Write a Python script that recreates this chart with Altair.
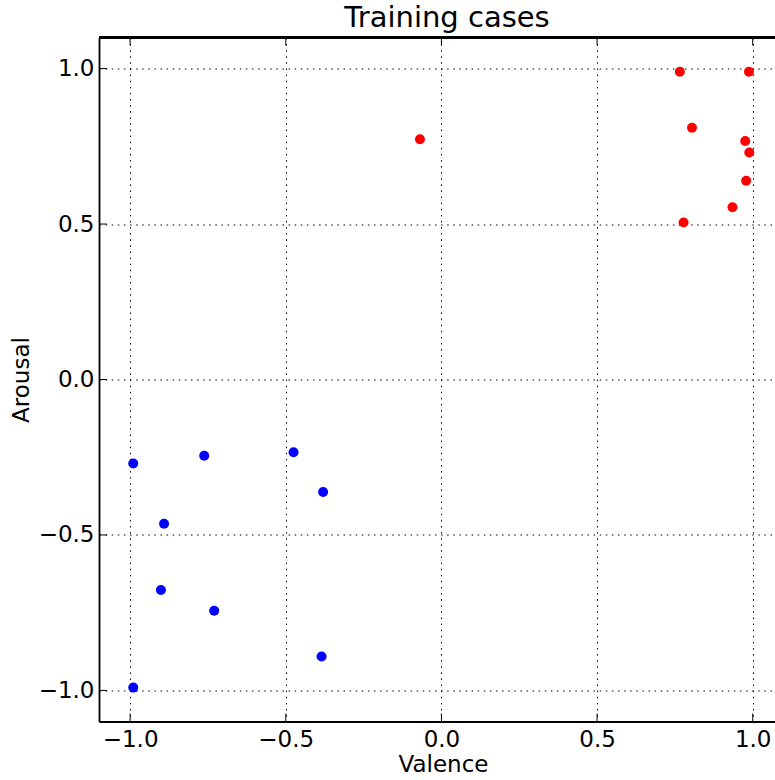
import altair as alt
import pandas as pd

# Training cases: positive (red) and negative (blue)
red_valence = [0.766, 0.988, 0.805, 0.976, 0.989, 0.979, 0.935, 0.778, -0.069]
red_arousal = [0.990, 0.990, 0.810, 0.767, 0.730, 0.639, 0.554, 0.505, 0.773]
blue_valence = [-0.990, -0.762, -0.475, -0.380, -0.891, -0.901, -0.730, -0.385, -0.990]
blue_arousal = [-0.270, -0.245, -0.234, -0.362, -0.464, -0.677, -0.744, -0.891, -0.991]
ticks = [-1.0, -0.5, 0.0, 0.5, 1.0]

df = pd.DataFrame({
    "Valence": red_valence + blue_valence,
    "Arousal": red_arousal + blue_arousal,
    "cls": ["pos"] * len(red_valence) + ["neg"] * len(blue_valence),
})
xticks_df = pd.DataFrame({"Valence": ticks})
yticks_df = pd.DataFrame({"Arousal": ticks})

FONT = "DejaVu Sans"
W, H = 676, 684
SPINE_W = 1.8
TICK_LEN = 8

xs = alt.Scale(domain=[-1.1, 1.0716], nice=False, zero=False)
ys = alt.Scale(domain=[-1.1, 1.1], nice=False, zero=False)

axis_common = dict(
    grid=True,
    gridColor="black",
    gridDash=[1.5, 4.6],
    gridWidth=1,
    gridOpacity=1,
    domain=True,
    domainColor="black",
    domainWidth=SPINE_W,
    ticks=False,
    labelFont=FONT,
    labelFontSize=23,
    labelColor="black",
    titleFont=FONT,
    titleFontSize=23,
    titleFontWeight="normal",
    titleColor="black",
    values=ticks,
    format=".1f",
)

points = (
    alt.Chart(df)
    .mark_circle(size=100, opacity=1)
    .encode(
        x=alt.X(
            "Valence:Q",
            scale=xs,
            axis=alt.Axis(labelPadding=7, titlePadding=2, titleX=344, **axis_common),
        ),
        y=alt.Y(
            "Arousal:Q",
            scale=ys,
            axis=alt.Axis(labelPadding=5, titlePadding=5, **axis_common),
        ),
        color=alt.Color(
            "cls:N",
            scale=alt.Scale(domain=["pos", "neg"], range=["#ff0000", "#0000ff"]),
            legend=None,
        ),
    )
)

# top spine at the upper end of the arousal domain
top_spine = (
    alt.Chart(df)
    .mark_rule(color="black", strokeWidth=SPINE_W)
    .encode(y=alt.datum(1.1))
)

# inward tick marks (matplotlib classic style)
ticks_bottom = (
    alt.Chart(xticks_df)
    .mark_tick(orient="vertical", size=TICK_LEN, thickness=1, color="black",
               opacity=1, yOffset=-TICK_LEN / 2)
    .encode(x=alt.X("Valence:Q", scale=xs), y=alt.datum(-1.1))
)
ticks_top = (
    alt.Chart(xticks_df)
    .mark_tick(orient="vertical", size=TICK_LEN, thickness=1, color="black",
               opacity=1, yOffset=TICK_LEN / 2)
    .encode(x=alt.X("Valence:Q", scale=xs), y=alt.datum(1.1))
)
ticks_left = (
    alt.Chart(yticks_df)
    .mark_tick(orient="horizontal", size=TICK_LEN, thickness=1, color="black",
               opacity=1, xOffset=TICK_LEN / 2)
    .encode(y=alt.Y("Arousal:Q", scale=ys), x=alt.datum(-1.1))
)

chart = (
    alt.layer(points, top_spine, ticks_bottom, ticks_top, ticks_left)
    .properties(
        width=W,
        height=H,
        title=alt.TitleParams(
            "Training cases",
            font=FONT,
            fontSize=29,
            fontWeight="normal",
            color="black",
            offset=4,
            dx=10,
            anchor="middle",
        ),
        autosize=alt.AutoSizeParams(type="none"),
        padding={"left": 99, "top": 37.5, "right": 0, "bottom": 58.5},
    )
    .configure_view(strokeWidth=0)
)

chart.save("out.html", embed_options={"renderer": "svg", "actions": False})
